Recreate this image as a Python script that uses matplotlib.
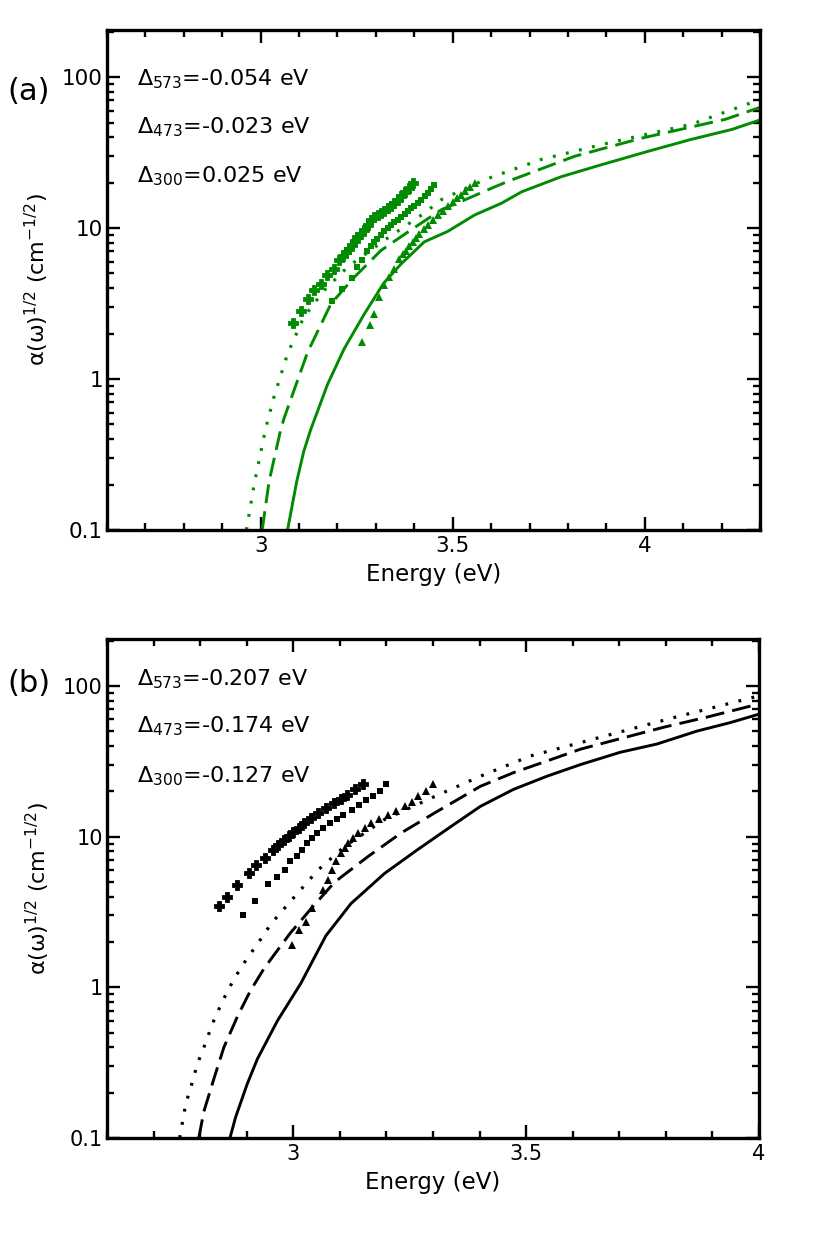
import matplotlib
matplotlib.use("Agg")
import matplotlib.pyplot as plt
from matplotlib.ticker import LogLocator, MultipleLocator, FixedLocator, NullFormatter

plt.rcParams['font.family'] = ['DejaVu Sans']
plt.rcParams['mathtext.fontset'] = 'dejavusans'
plt.rcParams['mathtext.default'] = 'regular'

GREEN = '#008b00'

# ---------------- panel (a) data ----------------
a_solid_E = [3.07, 3.094, 3.112, 3.13, 3.15, 3.174, 3.217, 3.27, 3.32, 3.366, 3.426, 3.487, 3.557, 3.627, 3.68, 3.783, 3.888, 4.01, 4.12, 4.227, 4.30]
a_solid_v = [0.1, 0.21, 0.33, 0.46, 0.63, 0.92, 1.58, 2.7, 4.3, 5.8, 8.1, 9.5, 12.2, 14.6, 17.4, 21.9, 26.3, 32.3, 38.6, 45.0, 52.0]
a_dash_E = [3.004, 3.022, 3.052, 3.061, 3.122, 3.183, 3.243, 3.313, 3.383, 3.47, 3.522, 3.60, 3.644, 3.818, 3.992, 4.21, 4.30]
a_dash_v = [0.1, 0.21, 0.46, 0.55, 1.5, 3.15, 4.7, 7.1, 9.4, 13.2, 15.0, 18.3, 20.4, 29.9, 39.4, 52.5, 63.0]
a_dot_E = [2.963, 2.983, 3.013, 3.034, 3.07, 3.112, 3.165, 3.226, 3.322, 3.427, 3.47, 3.583, 3.731, 3.905, 4.123, 4.30]
a_dot_v = [0.1, 0.2, 0.47, 0.75, 1.47, 2.56, 3.86, 5.5, 8.3, 12.6, 15.4, 20.9, 28.5, 36.6, 48.8, 71.0]

a_plus_E = [3.083, 3.104, 3.122, 3.139, 3.157, 3.174, 3.192, 3.205, 3.214, 3.222, 3.231, 3.239, 3.246, 3.252, 3.261, 3.270, 3.279, 3.287, 3.296, 3.305, 3.313, 3.322, 3.331, 3.339, 3.348, 3.357, 3.366, 3.375, 3.385, 3.396]
a_plus_v = [2.34, 2.84, 3.40, 3.86, 4.27, 4.86, 5.38, 6.1, 6.5, 6.95, 7.3, 7.7, 8.2, 8.75, 9.2, 9.7, 10.5, 11.3, 11.8, 12.2, 12.5, 13.0, 13.5, 13.9, 14.6, 15.4, 16.2, 17.2, 18.4, 19.8]
a_sq_E = [3.185, 3.212, 3.239, 3.252, 3.265, 3.278, 3.287, 3.295, 3.304, 3.313, 3.322, 3.331, 3.340, 3.348, 3.357, 3.366, 3.375, 3.383, 3.392, 3.400, 3.409, 3.418, 3.427, 3.435, 3.443, 3.452]
a_sq_v = [3.28, 3.96, 4.66, 5.5, 6.1, 7.1, 7.6, 8.1, 8.5, 9.0, 9.5, 10.0, 10.4, 10.9, 11.3, 11.8, 12.4, 12.9, 13.5, 14.0, 14.6, 15.4, 16.2, 17.0, 18.1, 19.3]
a_tri_E = [3.265, 3.285, 3.296, 3.309, 3.322, 3.335, 3.348, 3.361, 3.370, 3.379, 3.387, 3.396, 3.405, 3.413, 3.424, 3.435, 3.448, 3.461, 3.474, 3.487, 3.500, 3.511, 3.522, 3.533, 3.545, 3.557]
a_tri_v = [1.75, 2.29, 2.70, 3.48, 4.17, 4.75, 5.38, 6.27, 6.7, 7.1, 7.6, 8.1, 8.6, 9.2, 9.8, 10.5, 11.3, 12.2, 13.0, 13.9, 14.8, 15.7, 16.6, 17.6, 18.6, 19.8]

a_labels = [r'$\Delta_{573}$=-0.054 eV', r'$\Delta_{473}$=-0.023 eV', r'$\Delta_{300}$=0.025 eV']

# ---------------- panel (b) data ----------------
b_solid_E = [2.864, 2.876, 2.901, 2.923, 2.966, 3.016, 3.07, 3.124, 3.196, 3.267, 3.339, 3.402, 3.473, 3.545, 3.617, 3.702, 3.781, 3.867, 3.938, 4.0]
b_solid_v = [0.1, 0.137, 0.228, 0.335, 0.60, 1.06, 2.2, 3.6, 5.7, 8.2, 11.7, 15.9, 20.6, 25.2, 30.1, 36.3, 41.2, 50.2, 57.1, 65.0]
b_dash_E = [2.797, 2.808, 2.83, 2.851, 2.88, 2.908, 2.937, 2.966, 2.994, 3.039, 3.089, 3.161, 3.232, 3.304, 3.402, 3.473, 3.545, 3.617, 3.702, 3.795, 3.888, 4.0]
b_dash_v = [0.1, 0.15, 0.25, 0.40, 0.64, 0.95, 1.33, 1.76, 2.3, 3.35, 5.0, 7.4, 10.6, 14.4, 21.6, 26.6, 31.8, 38.1, 44.7, 53.2, 62.1, 76.0]
b_dot_E = [2.756, 2.769, 2.783, 2.794, 2.812, 2.826, 2.848, 2.873, 2.898, 2.926, 2.953, 3.003, 3.053, 3.11, 3.196, 3.304, 3.402, 3.509, 3.617, 3.724, 3.831, 3.903, 4.0]
b_dot_v = [0.1, 0.168, 0.234, 0.31, 0.43, 0.57, 0.81, 1.14, 1.51, 2.0, 2.66, 4.0, 6.0, 8.6, 13.0, 18.5, 25.2, 34.3, 42.1, 51.7, 63.3, 72.0, 86.0]

b_plus_E = [2.84, 2.857, 2.879, 2.904, 2.921, 2.94, 2.957, 2.968, 2.979, 2.99, 3.0, 3.012, 3.024, 3.038, 3.052, 3.07, 3.088, 3.102, 3.116, 3.133, 3.149]
b_plus_v = [3.47, 4.0, 4.78, 5.7, 6.5, 7.2, 8.2, 8.8, 9.5, 10.1, 10.8, 11.5, 12.3, 13.3, 14.4, 15.6, 16.8, 17.9, 19.0, 20.6, 22.5]
b_sq_E = [2.893, 2.918, 2.946, 2.964, 2.982, 2.993, 3.007, 3.018, 3.029, 3.04, 3.05, 3.064, 3.078, 3.093, 3.107, 3.125, 3.142, 3.157, 3.171, 3.186, 3.2]
b_sq_v = [3.0, 3.76, 4.86, 5.4, 6.0, 6.85, 7.4, 8.2, 9.1, 9.8, 10.6, 11.4, 12.3, 13.1, 14.0, 15.1, 16.3, 17.4, 18.5, 20.2, 22.2]
b_tri_E = [2.998, 3.013, 3.027, 3.041, 3.063, 3.074, 3.084, 3.092, 3.103, 3.11, 3.117, 3.128, 3.139, 3.153, 3.167, 3.185, 3.203, 3.221, 3.239, 3.254, 3.268, 3.284, 3.3]
b_tri_v = [1.9, 2.4, 2.73, 3.35, 4.43, 5.17, 6.0, 6.85, 7.8, 8.4, 9.1, 9.8, 10.6, 11.4, 12.3, 13.1, 14.0, 14.9, 15.9, 17.1, 18.5, 20.2, 22.2]

b_labels = [r'$\Delta_{573}$=-0.207 eV', r'$\Delta_{473}$=-0.174 eV', r'$\Delta_{300}$=-0.127 eV']

xticks_a = [3, 3.5, 4]
xticks_b = [3, 3.5, 4]
yticks = [0.1, 1, 10, 100]
ytick_labels = ['0.1', '1', '10', '100']

fig = plt.figure(figsize=(8.30, 12.46), dpi=100)
ax_a = fig.add_axes([107/830, 1-530/1246, 653/830, 500/1246])
ax_b = fig.add_axes([107/830, 1-1138/1246, 652/830, 499/1246])


def style(ax, xlim, xt, fs):
    ax.set_yscale('log')
    ax.set_xlim(*xlim)
    ax.set_ylim(0.1, 205)
    ax.xaxis.set_major_locator(FixedLocator(xt))
    ax.xaxis.set_minor_locator(MultipleLocator(0.1))
    ax.set_xticklabels([('%g' % t) for t in xt])
    ax.yaxis.set_major_locator(FixedLocator(yticks))
    ax.set_yticklabels(ytick_labels)
    ax.yaxis.set_minor_locator(LogLocator(base=10, subs=range(2, 10)))
    ax.yaxis.set_minor_formatter(NullFormatter())
    for s in ax.spines.values():
        s.set_linewidth(2.4)
    ax.tick_params(which='both', direction='in', top=True, right=True, width=1.7)
    ax.tick_params(which='major', length=9.5, labelsize=fs)
    ax.tick_params(which='minor', length=5)
    ax.tick_params(axis='x', which='major', pad=4)
    ax.tick_params(axis='y', which='major', pad=3)


def draw(ax, col, sE, sv, dE, dv, oE, ov, pE, pv, qE, qv, tE, tv):
    ax.plot(sE, sv, '-', color=col, lw=2.1)
    ax.plot(dE, dv, color=col, lw=2.1, linestyle=(0, (6.5, 2.8)))
    ax.plot(oE, ov, color=col, lw=2.3, linestyle=(0, (0.9, 3.3)), dash_capstyle='butt')
    ax.plot(pE, pv, 'P', color=col, ms=6.5, mec=col, mew=0.6, linestyle='none')
    ax.plot(qE, qv, 's', color=col, ms=4.8, mew=0, linestyle='none')
    ax.plot(tE, tv, '^', color=col, ms=6.2, mew=0, linestyle='none')


style(ax_a, (2.6, 4.3), xticks_a, 15.5)
draw(ax_a, GREEN, a_solid_E, a_solid_v, a_dash_E, a_dash_v, a_dot_E, a_dot_v,
     a_plus_E, a_plus_v, a_sq_E, a_sq_v, a_tri_E, a_tri_v)
style(ax_b, (2.6, 4.0), xticks_b, 15)
draw(ax_b, 'black', b_solid_E, b_solid_v, b_dash_E, b_dash_v, b_dot_E, b_dot_v,
     b_plus_E, b_plus_v, b_sq_E, b_sq_v, b_tri_E, b_tri_v)

ylab = r'$\alpha(\omega)^{1/2}$ (cm$^{-1/2}$)'
ax_a.set_xlabel('Energy (eV)', fontsize=16.5, labelpad=5)
ax_a.set_ylabel(ylab, fontsize=16, labelpad=8)
ax_b.set_xlabel('Energy (eV)', fontsize=16.5, labelpad=5)
ax_b.set_ylabel(ylab, fontsize=16, labelpad=8)

for ys, lab in zip([0.89, 0.794, 0.696], a_labels):
    ax_a.text(0.046, ys, lab, transform=ax_a.transAxes, fontsize=16, va='baseline', ha='left')
for ys, lab in zip([0.908, 0.812, 0.713], b_labels):
    ax_b.text(0.046, ys, lab, transform=ax_b.transAxes, fontsize=16, va='baseline', ha='left')

fig.text(7/830, 1-91/1246, '(a)', fontsize=22, va='center', ha='left')
fig.text(7/830, 1-684/1246, '(b)', fontsize=22, va='center', ha='left')

fig.savefig('out.png', dpi=100)
